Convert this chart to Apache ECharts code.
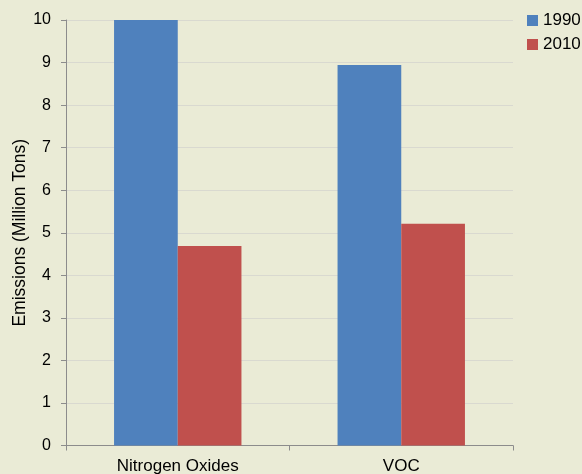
<!DOCTYPE html>
<html>
<head>
<meta charset="utf-8">
<script src="https://cdn.jsdelivr.net/npm/echarts@6/dist/echarts.min.js"></script>
<style>
  html, body { margin: 0; padding: 0; background: #eaebd6; }
  #chart { width: 582px; height: 474px; }
</style>
</head>
<body>
<div id="chart"></div>
<script>
var categories = ["Nitrogen Oxides", "VOC"];
var values1990 = [10, 8.94];
var values2010 = [4.69, 5.21];
var yTicks = [0, 10, 1];

var myChart = echarts.init(document.getElementById("chart"));
myChart.setOption({
  animation: false,
  backgroundColor: "#eaebd6",
  textStyle: { fontFamily: "Liberation Sans, Arial, sans-serif" },
  grid: { left: 66, right: 69, top: 20, bottom: 28.5, outerBoundsMode: "none" },
  legend: {
    orient: "vertical",
    left: 527,
    top: 12,
    padding: 0,
    itemWidth: 11,
    itemHeight: 11,
    itemGap: 7,
    icon: "rect",
    textStyle: { fontSize: 17, color: "#000" },
    data: ["1990", "2010"]
  },
  xAxis: {
    type: "category",
    data: categories,
    axisLine: { lineStyle: { color: "#8c8c8c", width: 1 } },
    axisTick: { show: true, length: 5, lineStyle: { color: "#8c8c8c" } },
    axisLabel: { fontSize: 17, color: "#000", margin: 12 }
  },
  yAxis: {
    type: "value",
    min: yTicks[0],
    max: yTicks[1],
    interval: yTicks[2],
    name: "Emissions (Million Tons)",
    nameLocation: "middle",
    nameGap: 37,
    nameMoveOverlap: false,
    nameTextStyle: { fontSize: 17.5, color: "#000" },
    axisLine: { show: true, lineStyle: { color: "#8c8c8c", width: 1 } },
    axisTick: { show: true, length: 5, lineStyle: { color: "#8c8c8c" } },
    axisLabel: { fontSize: 16, color: "#000", margin: 15 },
    splitLine: { lineStyle: { color: "#d9d9d0", width: 1 } }
  },
  series: [
    {
      name: "1990",
      type: "bar",
      data: values1990,
      barGap: "0%",
      barCategoryGap: "43%",
      itemStyle: { color: "#4f81bd" }
    },
    {
      name: "2010",
      type: "bar",
      data: values2010,
      itemStyle: { color: "#c0504d" }
    }
  ]
});
</script>
</body>
</html>
